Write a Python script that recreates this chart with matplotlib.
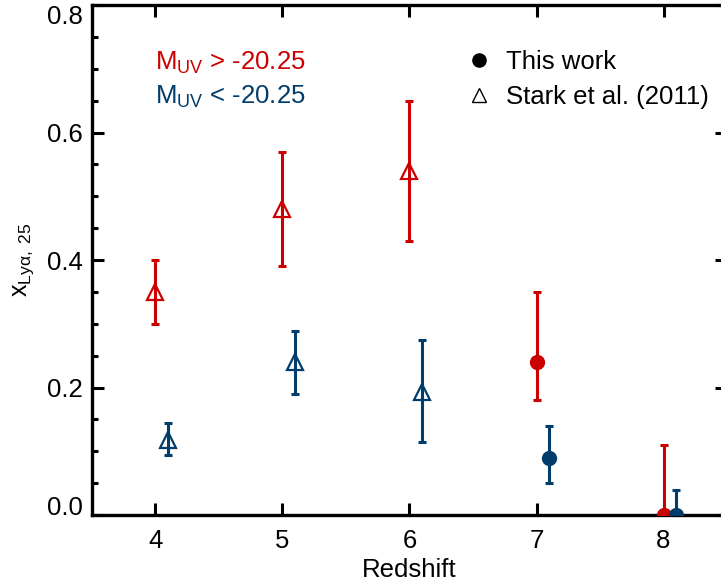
import matplotlib
matplotlib.use("Agg")
import matplotlib.pyplot as plt
from matplotlib.lines import Line2D

plt.rcParams['font.family'] = ['Liberation Sans', 'DejaVu Sans']
plt.rcParams['mathtext.fontset'] = 'custom'
plt.rcParams['mathtext.rm'] = 'Liberation Sans'
plt.rcParams['mathtext.it'] = 'Liberation Sans:italic'
plt.rcParams['mathtext.bf'] = 'Liberation Sans:bold'

RED = '#cc0000'
BLUE = '#003d6b'

# Stark et al. (2011), faint (M_UV > -20.25)
stark_faint_z = [4, 5, 6]
stark_faint_x = [0.35, 0.48, 0.54]
stark_faint_lo = [0.30, 0.39, 0.43]
stark_faint_hi = [0.40, 0.57, 0.65]

# Stark et al. (2011), bright (M_UV < -20.25)
stark_bright_z = [4.1, 5.1, 6.1]
stark_bright_x = [0.117, 0.24, 0.193]
stark_bright_lo = [0.094, 0.19, 0.114]
stark_bright_hi = [0.144, 0.288, 0.274]

# This work, faint
this_faint_z = [7, 8]
this_faint_x = [0.24, 0.0]
this_faint_lo = [0.18, 0.0]
this_faint_hi = [0.35, 0.11]

# This work, bright
this_bright_z = [7.1, 8.1]
this_bright_x = [0.089, 0.0]
this_bright_lo = [0.050, 0.0]
this_bright_hi = [0.139, 0.039]

xticks = [4, 5, 6, 7, 8]
yticks = [0.0, 0.2, 0.4, 0.6, 0.8]

FS = 18.5

fig = plt.figure(figsize=(7.21, 5.86), dpi=100)
ax = fig.add_axes([92/721, 1-515/586, 635/721, 510/586])

def eb(z, v, lo, hi, color, marker, filled):
    yerr = [[a - b for a, b in zip(v, lo)], [b - a for a, b in zip(v, hi)]]
    ax.errorbar(z, v, yerr=yerr, fmt='none', ecolor=color, elinewidth=2.2,
                capsize=3, capthick=2.2, zorder=2)
    if filled:
        ax.plot(z, v, linestyle='none', marker=marker, ms=10, mfc=color,
                mec=color, zorder=3)
    else:
        ax.plot(z, v, linestyle='none', marker=marker, ms=11, mfc='none',
                mec=color, mew=1.6, zorder=3)

eb(stark_faint_z, stark_faint_x, stark_faint_lo, stark_faint_hi, RED, '^', False)
eb(stark_bright_z, stark_bright_x, stark_bright_lo, stark_bright_hi, BLUE, '^', False)
eb(this_faint_z, this_faint_x, this_faint_lo, this_faint_hi, RED, 'o', True)
eb(this_bright_z, this_bright_x, this_bright_lo, this_bright_hi, BLUE, 'o', True)

ax.set_xlim(3.5, 8.5)
ax.set_ylim(0, 0.8)
ax.set_xticks(xticks)
ax.set_yticks(yticks)
ax.set_yticklabels([f'{t:.1f}' for t in yticks])
ax.set_yticks([0.05 * i for i in range(17) if i % 4 != 0], minor=True)

for s in ax.spines.values():
    s.set_linewidth(2.4)
ax.tick_params(which='both', direction='in', top=True, right=True, width=2.2,
               labelsize=FS)
ax.tick_params(which='major', length=8.6)
ax.tick_params(which='minor', length=4.5)
ax.tick_params(axis='x', pad=10)
ax.tick_params(axis='y', pad=6.5)

ylabels = ax.get_yticklabels()
ylabels[0].set_va('baseline')
ylabels[-1].set_va('top')

ax.set_xlabel('Redshift', fontsize=FS, labelpad=4)
ax.set_ylabel(r'x$_{\rm Ly\alpha,\ 25}$', fontsize=18, labelpad=8)

ax.text(0.099, 0.886, r'M$_{\rm UV}$ > -20.25', color=RED, fontsize=FS,
        transform=ax.transAxes, va='center', ha='left')
ax.text(0.099, 0.82, r'M$_{\rm UV}$ < -20.25', color=BLUE, fontsize=FS,
        transform=ax.transAxes, va='center', ha='left')

handles = [
    Line2D([], [], linestyle='none', marker='o', ms=9.5, mfc='black', mec='black'),
    Line2D([], [], linestyle='none', marker='^', ms=10.5, mfc='none', mec='black', mew=1.0),
]
ax.legend(handles, ['This work', 'Stark et al. (2011)'], loc='upper left',
          bbox_to_anchor=(0.59, 0.912), frameon=False, fontsize=FS,
          handlelength=1.0, handletextpad=0.54, labelspacing=0.44,
          borderpad=0, borderaxespad=0)

fig.savefig('out.png', dpi=100)
